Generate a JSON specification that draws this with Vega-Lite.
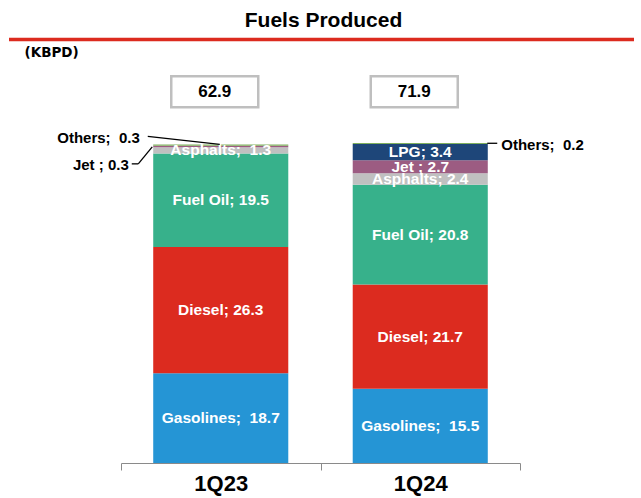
{
  "$schema": "https://vega.github.io/schema/vega-lite/v6.json",
  "width": 625,
  "height": 463,
  "autosize": "none",
  "padding": {"left": 9, "top": 0, "right": 7, "bottom": 35},
  "config": {"view": {"stroke": null}, "font": "Liberation Sans"},
  "datasets": {
    "fuels": [
      {"period": "1Q23", "fuel": "Gasolines", "value": 18.7, "rank": 1, "label": "Gasolines;\u00a0 18.7"},
      {"period": "1Q23", "fuel": "Diesel", "value": 26.3, "rank": 2, "label": "Diesel; 26.3"},
      {"period": "1Q23", "fuel": "Fuel Oil", "value": 19.5, "rank": 3, "label": "Fuel Oil; 19.5"},
      {"period": "1Q23", "fuel": "Asphalts", "value": 1.3, "rank": 4, "label": "Asphalts;\u00a0 1.3"},
      {"period": "1Q23", "fuel": "Jet", "value": 0.3, "rank": 5, "label": "Jet ; 0.3"},
      {"period": "1Q23", "fuel": "Others", "value": 0.3, "rank": 7, "label": "Others;\u00a0 0.3"},
      {"period": "1Q24", "fuel": "Gasolines", "value": 15.5, "rank": 1, "label": "Gasolines;\u00a0 15.5"},
      {"period": "1Q24", "fuel": "Diesel", "value": 21.7, "rank": 2, "label": "Diesel; 21.7"},
      {"period": "1Q24", "fuel": "Fuel Oil", "value": 20.8, "rank": 3, "label": "Fuel Oil; 20.8"},
      {"period": "1Q24", "fuel": "Asphalts", "value": 2.4, "rank": 4, "label": "Asphalts; 2.4"},
      {"period": "1Q24", "fuel": "Jet", "value": 2.7, "rank": 5, "label": "Jet ; 2.7"},
      {"period": "1Q24", "fuel": "LPG", "value": 3.4, "rank": 6, "label": "LPG; 3.4"},
      {"period": "1Q24", "fuel": "Others", "value": 0.2, "rank": 7, "label": "Others;\u00a0 0.2"}
    ],
    "totals": [
      {"period": "1Q23", "total": "62.9"},
      {"period": "1Q24", "total": "71.9"}
    ],
    "one": [{"id": 1}]
  },
  "layer": [
    {
      "data": {"name": "one"},
      "mark": {"type": "rule", "color": "#DC2B1F", "strokeWidth": 3.5},
      "encoding": {
        "y": {"datum": 88.27, "type": "quantitative", "scale": {"domain": [0, 96.5], "nice": false, "zero": true}}
      }
    },
    {
      "data": {"name": "one"},
      "mark": {"type": "text", "text": "Fuels Produced", "font": "Liberation Sans", "fontWeight": "bold", "fontSize": 21, "color": "black", "baseline": "alphabetic", "align": "center", "dx": 2},
      "encoding": {
        "y": {"datum": 90.87, "type": "quantitative", "scale": {"domain": [0, 96.5], "nice": false, "zero": true}}
      }
    },
    {
      "data": {"name": "fuels"},
      "mark": {"type": "bar", "width": {"band": 0.677}},
      "encoding": {
        "x": {
          "field": "period", "type": "nominal", "sort": ["1Q23", "1Q24"],
          "scale": {"range": [112, 511], "paddingInner": 0, "paddingOuter": 0},
          "axis": {"title": null, "labelAngle": 0, "domainColor": "#8a8a8a", "tickColor": "#8a8a8a", "tickSize": 7, "tickBand": "extent", "labelFont": "Liberation Sans", "labelFontSize": 22, "labelFontWeight": "bold", "labelColor": "black", "labelPadding": 3}
        },
        "y": {
          "field": "value", "type": "quantitative", "stack": "zero",
          "scale": {"domain": [0, 96.5], "nice": false, "zero": true},
          "axis": {"title": "(KBPD)", "orient": "left", "domain": false, "ticks": false, "labels": false, "grid": false, "titleAngle": 0, "titleAlign": "left", "titleBaseline": "middle", "titleX": 15, "titleY": 52, "titleFont": "DejaVu Sans", "titleFontSize": 13.5, "titleFontWeight": "bold", "titleColor": "black"}
        },
        "color": {
          "field": "fuel", "type": "nominal",
          "scale": {"domain": ["Gasolines", "Diesel", "Fuel Oil", "Asphalts", "Jet", "LPG", "Others"], "range": ["#2595D5", "#DC2B1F", "#37B18B", "#C0C0C0", "#9C5C82", "#1E4679", "#7FB05E"]},
          "legend": null
        },
        "order": {"field": "rank", "type": "quantitative"}
      }
    },
    {
      "data": {"name": "fuels"},
      "transform": [
        {"stack": "value", "groupby": ["period"], "sort": [{"field": "rank", "order": "ascending"}], "as": ["v0", "v1"]},
        {"filter": "datum.value >= 1"},
        {"fold": ["v0", "v1"], "as": ["edge", "pos"]}
      ],
      "mark": {"type": "text", "color": "white", "fontWeight": "bold", "fontSize": 15.5, "baseline": "middle", "align": "center"},
      "encoding": {
        "x": {"field": "period", "type": "nominal"},
        "y": {"field": "pos", "type": "quantitative", "aggregate": "mean", "scale": {"domain": [0, 96.5], "nice": false, "zero": true}},
        "text": {"field": "label", "type": "nominal"}
      }
    },
    {
      "data": {"name": "fuels"},
      "transform": [
        {"stack": "value", "groupby": ["period"], "sort": [{"field": "rank", "order": "ascending"}], "as": ["v0", "v1"]},
        {"filter": "datum.period == '1Q23' && datum.fuel == 'Others'"}
      ],
      "layer": [
        {
          "mark": {"type": "text", "color": "black", "fontWeight": "bold", "fontSize": 15, "baseline": "middle", "align": "right", "dx": -81, "dy": -6.5},
          "encoding": {
            "x": {"field": "period", "type": "nominal"},
            "y": {"field": "v1", "type": "quantitative", "scale": {"domain": [0, 96.5], "nice": false, "zero": true}},
            "text": {"field": "label", "type": "nominal"}
          }
        },
        {
          "mark": {"type": "rule", "color": "black", "strokeWidth": 1.3, "xOffset": -73, "x2Offset": -1, "yOffset": -8, "y2Offset": 0},
          "encoding": {
            "x": {"field": "period", "type": "nominal"},
            "x2": {"field": "period"},
            "y": {"field": "v1", "type": "quantitative", "scale": {"domain": [0, 96.5], "nice": false, "zero": true}},
            "y2": {"field": "v1"}
          }
        }
      ]
    },
    {
      "data": {"name": "fuels"},
      "transform": [
        {"stack": "value", "groupby": ["period"], "sort": [{"field": "rank", "order": "ascending"}], "as": ["v0", "v1"]},
        {"filter": "datum.period == '1Q23' && datum.fuel == 'Jet'"}
      ],
      "layer": [
        {
          "mark": {"type": "text", "color": "black", "fontWeight": "bold", "fontSize": 15, "baseline": "middle", "align": "right", "dx": -92, "dy": 19},
          "encoding": {
            "x": {"field": "period", "type": "nominal"},
            "y": {"field": "v1", "type": "quantitative", "scale": {"domain": [0, 96.5], "nice": false, "zero": true}},
            "text": {"field": "label", "type": "nominal"}
          }
        },
        {
          "mark": {"type": "rule", "color": "black", "strokeWidth": 1.3, "xOffset": -89, "x2Offset": -82.5, "yOffset": 18, "y2Offset": 18},
          "encoding": {
            "x": {"field": "period", "type": "nominal"},
            "x2": {"field": "period"},
            "y": {"field": "v1", "type": "quantitative", "scale": {"domain": [0, 96.5], "nice": false, "zero": true}},
            "y2": {"field": "v1"}
          }
        },
        {
          "mark": {"type": "rule", "color": "black", "strokeWidth": 1.3, "xOffset": -82.5, "x2Offset": -68.5, "yOffset": 18, "y2Offset": 1},
          "encoding": {
            "x": {"field": "period", "type": "nominal"},
            "x2": {"field": "period"},
            "y": {"field": "v1", "type": "quantitative", "scale": {"domain": [0, 96.5], "nice": false, "zero": true}},
            "y2": {"field": "v1"}
          }
        }
      ]
    },
    {
      "data": {"name": "fuels"},
      "transform": [
        {"stack": "value", "groupby": ["period"], "sort": [{"field": "rank", "order": "ascending"}], "as": ["v0", "v1"]},
        {"filter": "datum.period == '1Q24' && datum.fuel == 'Others'"}
      ],
      "layer": [
        {
          "mark": {"type": "text", "color": "black", "fontWeight": "bold", "fontSize": 15, "baseline": "middle", "align": "left", "dx": 81, "dy": 2},
          "encoding": {
            "x": {"field": "period", "type": "nominal"},
            "y": {"field": "v1", "type": "quantitative", "scale": {"domain": [0, 96.5], "nice": false, "zero": true}},
            "text": {"field": "label", "type": "nominal"}
          }
        },
        {
          "mark": {"type": "rule", "color": "black", "strokeWidth": 1.3, "xOffset": 67, "x2Offset": 77, "yOffset": 0.3, "y2Offset": 0.3},
          "encoding": {
            "x": {"field": "period", "type": "nominal"},
            "x2": {"field": "period"},
            "y": {"field": "v1", "type": "quantitative", "scale": {"domain": [0, 96.5], "nice": false, "zero": true}},
            "y2": {"field": "v1"}
          }
        }
      ]
    },
    {
      "data": {"name": "totals"},
      "mark": {"type": "point", "shape": "M-1,-0.356H1V0.356H-1Z", "size": 7569, "filled": true, "fill": "white", "stroke": "#BFBFBF", "strokeWidth": 2.5, "opacity": 1, "xOffset": -6},
      "encoding": {
        "x": {"field": "period", "type": "nominal"},
        "y": {"datum": 77.4, "type": "quantitative", "scale": {"domain": [0, 96.5], "nice": false, "zero": true}}
      }
    },
    {
      "data": {"name": "totals"},
      "mark": {"type": "text", "color": "black", "fontWeight": "bold", "fontSize": 17, "baseline": "middle", "align": "center", "xOffset": -6},
      "encoding": {
        "x": {"field": "period", "type": "nominal"},
        "y": {"datum": 77.4, "type": "quantitative", "scale": {"domain": [0, 96.5], "nice": false, "zero": true}},
        "text": {"field": "total", "type": "nominal"}
      }
    }
  ]
}
